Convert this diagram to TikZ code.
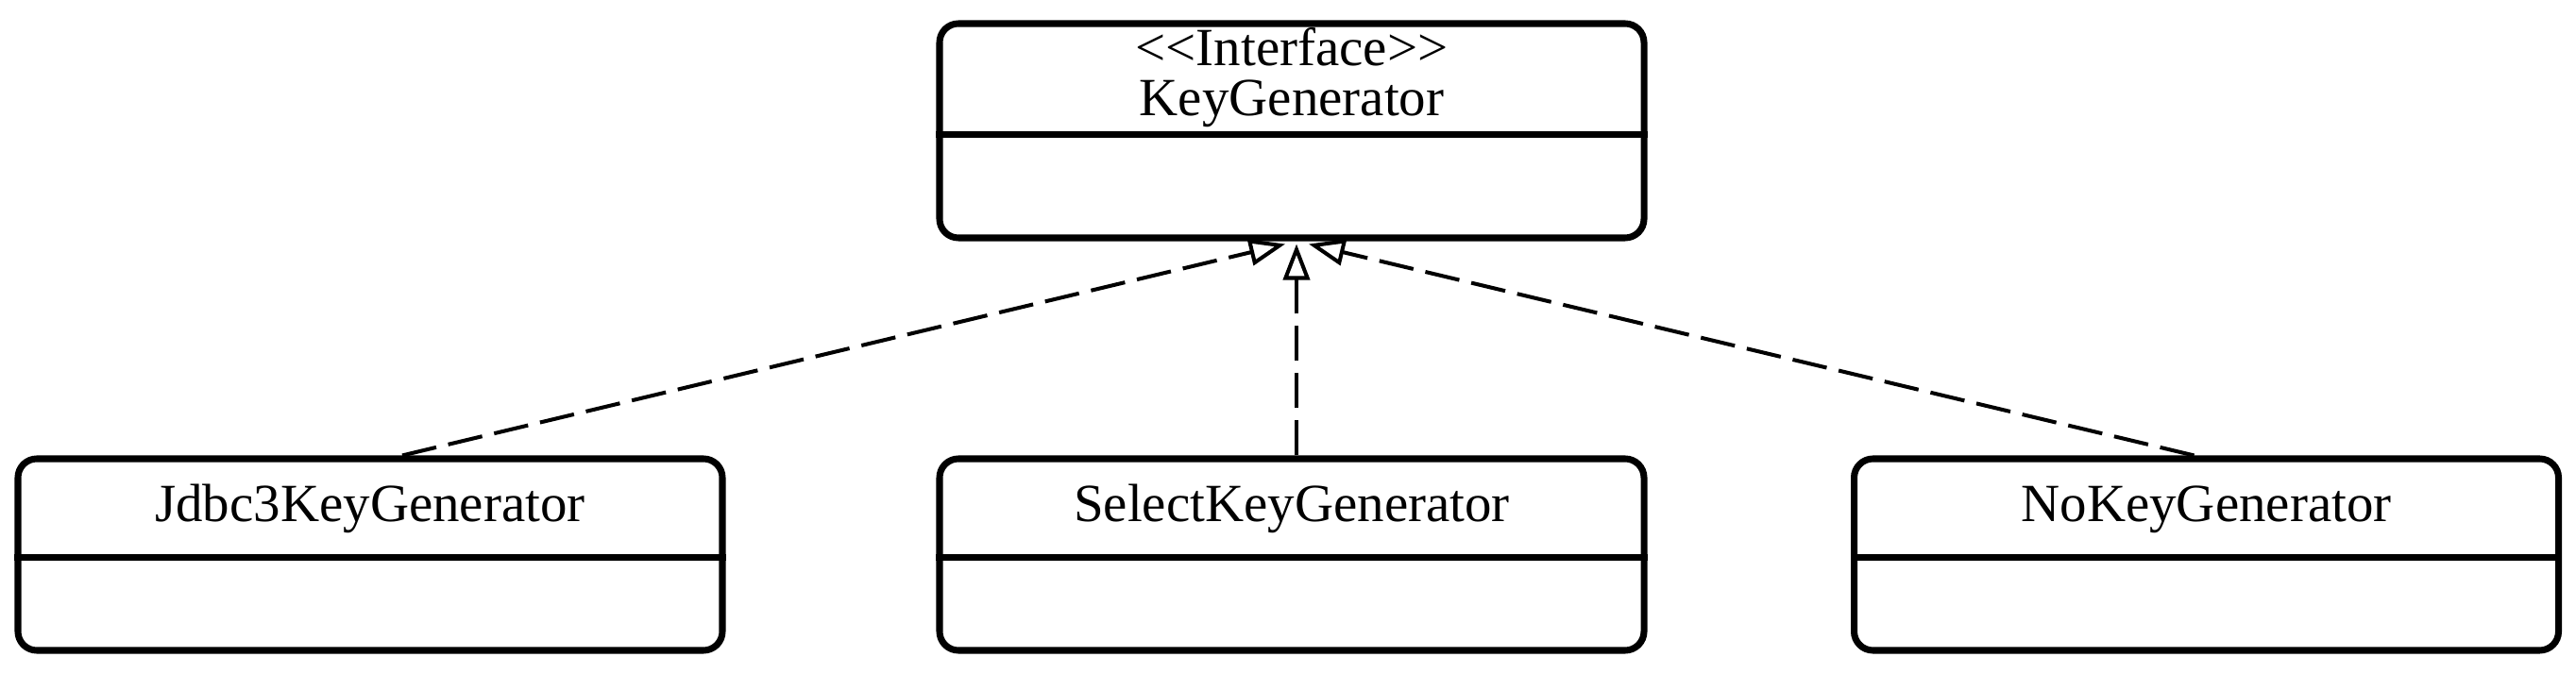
\documentclass[tikz,border=0pt]{standalone}
\usepackage{fontspec}
\setmainfont{Liberation Serif}
\usetikzlibrary{arrows.meta}
\tikzset{
  umlbox/.style={draw, line width=2pt, rounded corners=0.2cm, minimum width=7.46cm, inner sep=0pt, fill=white},
  divider/.style={line width=2pt},
  label/.style={font=\fontsize{16.2}{19}\selectfont, inner sep=0pt, anchor=base},
  impl/.style={line width=1.15pt, dash pattern=on 0.37cm off 0.13cm, -{Triangle[open, length=0.38cm, width=0.28cm, line width=1.15pt]}}
}
\begin{document}
\begin{tikzpicture}
\useasboundingbox (0,0) rectangle (27.28,-7.14);
% boxes
\node[umlbox, minimum height=2.27cm] (top) at (13.68,-1.385) {};
\node[umlbox, minimum height=2.03cm] (j) at (3.92,-5.875) {};
\node[umlbox, minimum height=2.03cm] (s) at (13.68,-5.875) {};
\node[umlbox, minimum height=2.03cm] (n) at (23.365,-5.875) {};
% dividers
\draw[divider] ([yshift=-1.21cm]top.north west) -- ([yshift=-1.21cm]top.north east);
\draw[divider] ([yshift=-1.08cm]j.north west) -- ([yshift=-1.08cm]j.north east);
\draw[divider] ([yshift=-1.08cm]s.north west) -- ([yshift=-1.08cm]s.north east);
\draw[divider] ([yshift=-1.08cm]n.north west) -- ([yshift=-1.08cm]n.north east);
% labels
\node[label] (tst) at (13.68,-0.70) {\textless\kern0pt\textless\kern0pt Interface\kern0pt\textgreater\kern0pt\textgreater};
\node[label] (tnm) at (13.68,-1.23) {KeyGenerator};
\node[label] (jl) at (3.92,-5.53) {Jdbc3KeyGenerator};
\node[label] (sl) at (13.68,-5.53) {SelectKeyGenerator};
\node[label] (nl) at (23.365,-5.53) {NoKeyGenerator};
% connectors
\draw[impl] ([xshift=0.34cm]j.north) -- ([xshift=-0.07cm,yshift=-0.03cm]top.south);
\draw[impl] ([xshift=0.05cm]s.north) -- ([xshift=0.05cm,yshift=-0.03cm]top.south);
\draw[impl] ([xshift=-0.13cm]n.north) -- ([xshift=0.18cm,yshift=-0.03cm]top.south);
\end{tikzpicture}
\end{document}
